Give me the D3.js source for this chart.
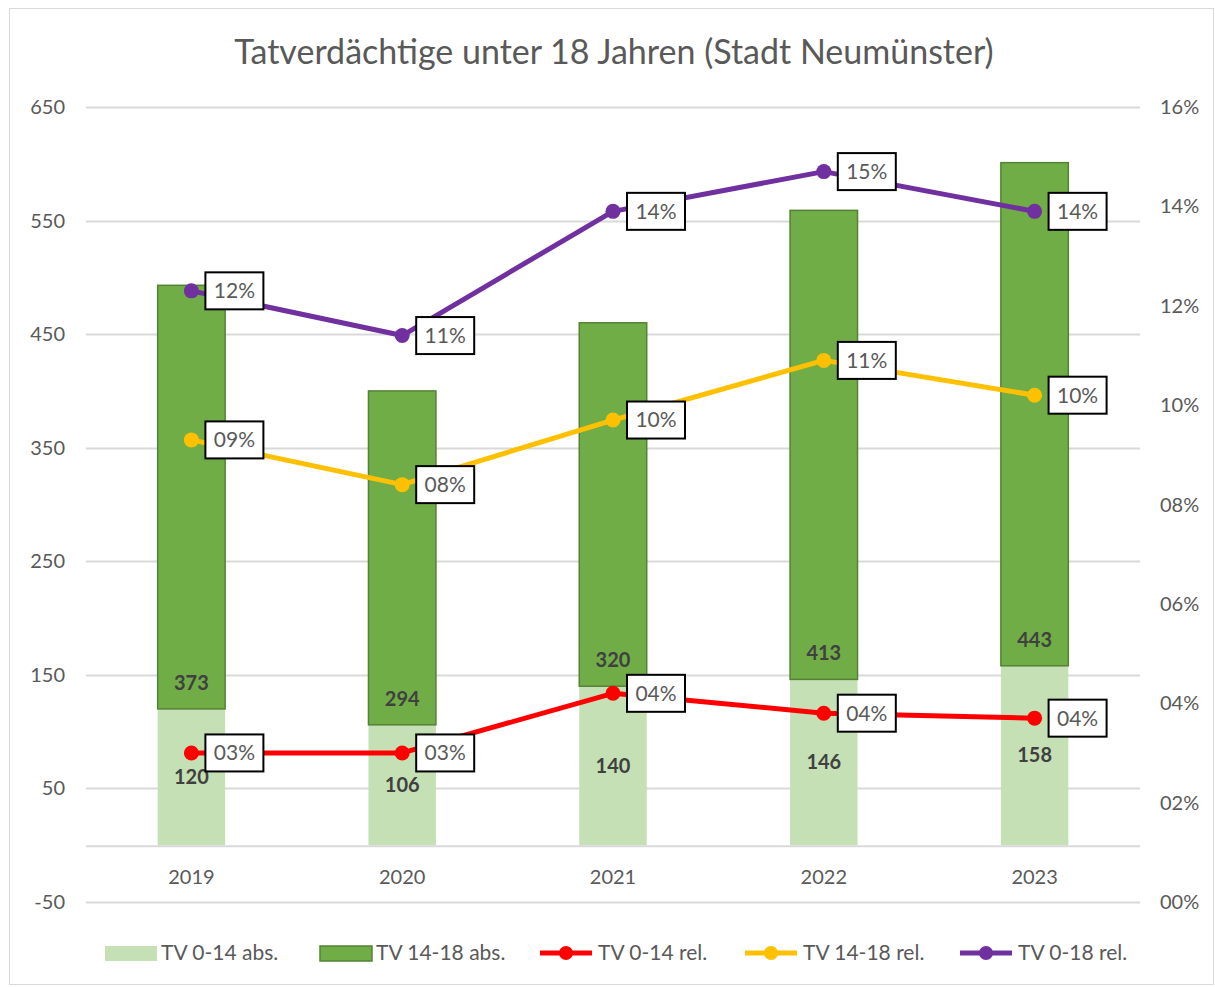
<!DOCTYPE html>
<html>
<head>
<meta charset="utf-8">
<script src="https://cdn.jsdelivr.net/npm/d3@7"></script>
<style>
  body { margin: 0; background: #fff; }
  text { font-family: Lato, "Open Sans", sans-serif; }
</style>
</head>
<body>
<div id="chart"></div>
<script>
// data
var years = ["2019", "2020", "2021", "2022", "2023"];
var abs0to14 = [120, 106, 140, 146, 158];
var abs14to18 = [373, 294, 320, 413, 443];
var rel0to14 = [0.030, 0.030, 0.042, 0.038, 0.037];
var rel14to18 = [0.093, 0.084, 0.097, 0.109, 0.102];
var rel0to18 = [0.123, 0.114, 0.139, 0.147, 0.139];
var leftTicks = [-50, 50, 150, 250, 350, 450, 550, 650];
var rightTicks = [0, 0.02, 0.04, 0.06, 0.08, 0.10, 0.12, 0.14, 0.16];

var width = 1215, height = 987;
var textCol = "#595959";

var svg = d3.select("#chart").append("svg")
    .attr("width", width)
    .attr("height", height);

// chart border
svg.append("rect")
    .attr("x", 9.5).attr("y", 8.5)
    .attr("width", 1204).attr("height", 976)
    .attr("fill", "#fff")
    .attr("stroke", "#d9d9d9");

var x = d3.scaleBand()
    .domain(years)
    .range([86, 1140])
    .paddingInner(0.68)
    .paddingOuter(0.34);

var yL = d3.scaleLinear().domain([-50, 650]).range([902, 107]);
var yR = d3.scaleLinear().domain([0, 0.16]).range([902, 107]);

function pct(v) { return String(Math.round(v * 100)).padStart(2, "0") + "%"; }

// gridlines
svg.append("g")
    .selectAll("line")
    .data(leftTicks)
    .enter()
    .append("line")
    .attr("x1", 86).attr("x2", 1140)
    .attr("y1", function (d) { return Math.round(yL(d)) + 0.5; })
    .attr("y2", function (d) { return Math.round(yL(d)) + 0.5; })
    .attr("stroke", "#d9d9d9")
    .attr("stroke-width", 2);

// left axis
svg.append("g")
    .selectAll("text")
    .data(leftTicks)
    .enter()
    .append("text")
    .attr("x", 65)
    .attr("y", function (d) { return yL(d); })
    .attr("dy", "0.35em")
    .attr("text-anchor", "end")
    .attr("fill", textCol)
    .style("font-size", "20px")
    .text(function (d) { return d; });

// right axis
svg.append("g")
    .selectAll("text")
    .data(rightTicks)
    .enter()
    .append("text")
    .attr("x", 1160)
    .attr("y", function (d) { return yR(d); })
    .attr("dy", "0.35em")
    .attr("fill", textCol)
    .style("font-size", "20px")
    .text(function (d) { return pct(d); });

// stacked bars
var bars = svg.append("g");
bars.selectAll("rect.low")
    .data(years)
    .enter()
    .append("rect")
    .attr("x", function (d) { return x(d); })
    .attr("width", x.bandwidth())
    .attr("y", function (d, i) { return yL(abs0to14[i]); })
    .attr("height", function (d, i) { return yL(0) - yL(abs0to14[i]); })
    .attr("fill", "#c5e0b4");

bars.selectAll("rect.high")
    .data(years)
    .enter()
    .append("rect")
    .attr("x", function (d) { return x(d); })
    .attr("width", x.bandwidth())
    .attr("y", function (d, i) { return yL(abs0to14[i] + abs14to18[i]); })
    .attr("height", function (d, i) { return yL(abs0to14[i]) - yL(abs0to14[i] + abs14to18[i]); })
    .attr("fill", "#70ad47")
    .attr("stroke", "#548235")
    .attr("stroke-width", 1.5);

// x axis line
svg.append("line")
    .attr("x1", 86).attr("x2", 1140)
    .attr("y1", yL(0) + 1).attr("y2", yL(0) + 1)
    .attr("stroke", "#d9d9d9")
    .attr("stroke-width", 2);

// bar labels
bars.selectAll("text.low")
    .data(years)
    .enter()
    .append("text")
    .attr("x", function (d) { return x(d) + x.bandwidth() / 2; })
    .attr("y", function (d, i) { return (yL(0) + yL(abs0to14[i])) / 2; })
    .attr("dy", "0.35em")
    .attr("text-anchor", "middle")
    .attr("fill", "#404040")
    .style("font-size", "20px")
    .style("font-weight", "bold")
    .text(function (d, i) { return abs0to14[i]; });

bars.selectAll("text.high")
    .data(years)
    .enter()
    .append("text")
    .attr("x", function (d) { return x(d) + x.bandwidth() / 2; })
    .attr("y", function (d, i) { return yL(abs0to14[i]) - 26; })
    .attr("dy", "0.35em")
    .attr("text-anchor", "middle")
    .attr("fill", "#404040")
    .style("font-size", "20px")
    .style("font-weight", "bold")
    .text(function (d, i) { return abs14to18[i]; });

// x labels
svg.append("g")
    .selectAll("text")
    .data(years)
    .enter()
    .append("text")
    .attr("x", function (d) { return x(d) + x.bandwidth() / 2; })
    .attr("y", 877)
    .attr("dy", "0.35em")
    .attr("text-anchor", "middle")
    .attr("fill", textCol)
    .style("font-size", "20px")
    .text(function (d) { return d; });

// lines
var series = [
    { values: rel0to14, color: "#ff0000" },
    { values: rel14to18, color: "#ffc000" },
    { values: rel0to18, color: "#7030a0" }
];

var line = d3.line()
    .x(function (d, i) { return x(years[i]) + x.bandwidth() / 2; })
    .y(function (d) { return yR(d); });

series.forEach(function (s) {
    var g = svg.append("g");
    g.append("path")
        .datum(s.values)
        .attr("d", line)
        .attr("fill", "none")
        .attr("stroke", s.color)
        .attr("stroke-width", 5)
        .attr("stroke-linejoin", "round");
    g.selectAll("circle")
        .data(s.values)
        .enter()
        .append("circle")
        .attr("cx", function (d, i) { return x(years[i]) + x.bandwidth() / 2; })
        .attr("cy", function (d) { return yR(d); })
        .attr("r", 7.5)
        .attr("fill", s.color);
});

// line labels in boxes
series.forEach(function (s) {
    var lg = svg.append("g")
        .selectAll("g")
        .data(s.values)
        .enter()
        .append("g")
        .attr("transform", function (d, i) {
            return "translate(" + (x(years[i]) + x.bandwidth() / 2 + 14) + "," + yR(d) + ")";
        });
    lg.append("rect")
        .attr("x", 0).attr("y", -18.5)
        .attr("width", 58).attr("height", 37)
        .attr("fill", "#fff")
        .attr("stroke", "#000")
        .attr("stroke-width", 2);
    lg.append("text")
        .attr("x", 29)
        .attr("dy", "0.35em")
        .attr("text-anchor", "middle")
        .attr("fill", textCol)
        .style("font-size", "21px")
        .text(function (d) { return pct(d); });
});

// title
svg.append("text")
    .attr("x", 614)
    .attr("y", 52)
    .attr("dy", "0.35em")
    .attr("text-anchor", "middle")
    .attr("fill", textCol)
    .style("font-size", "34px")
    .text("Tatverdächtige unter 18 Jahren (Stadt Neumünster)");

// legend
var legendItems = [
    { label: "TV 0-14 abs.", type: "bar", fill: "#c5e0b4", stroke: "none", x: 105 },
    { label: "TV 14-18 abs.", type: "bar", fill: "#70ad47", stroke: "#548235", x: 320 },
    { label: "TV 0-14 rel.", type: "line", fill: "#ff0000", x: 540 },
    { label: "TV 14-18 rel.", type: "line", fill: "#ffc000", x: 745 },
    { label: "TV 0-18 rel.", type: "line", fill: "#7030a0", x: 960 }
];
var ly = 953;
var legend = svg.append("g")
    .selectAll("g")
    .data(legendItems)
    .enter()
    .append("g")
    .attr("transform", function (d) { return "translate(" + d.x + "," + ly + ")"; });

legend.each(function (d) {
    var g = d3.select(this);
    if (d.type == "bar") {
        g.append("rect")
            .attr("x", 0).attr("y", -7)
            .attr("width", 52).attr("height", 15)
            .attr("fill", d.fill)
            .attr("stroke", d.stroke)
            .attr("stroke-width", 1.5);
        g.append("text").attr("x", 56).attr("dy", "0.35em")
            .attr("fill", textCol).style("font-size", "21px").text(d.label);
    } else {
        g.append("line")
            .attr("x1", 0).attr("x2", 52)
            .attr("stroke", d.fill).attr("stroke-width", 5);
        g.append("circle").attr("cx", 26).attr("r", 7).attr("fill", d.fill);
        g.append("text").attr("x", 58).attr("dy", "0.35em")
            .attr("fill", textCol).style("font-size", "21px").text(d.label);
    }
});
</script>
</body>
</html>
